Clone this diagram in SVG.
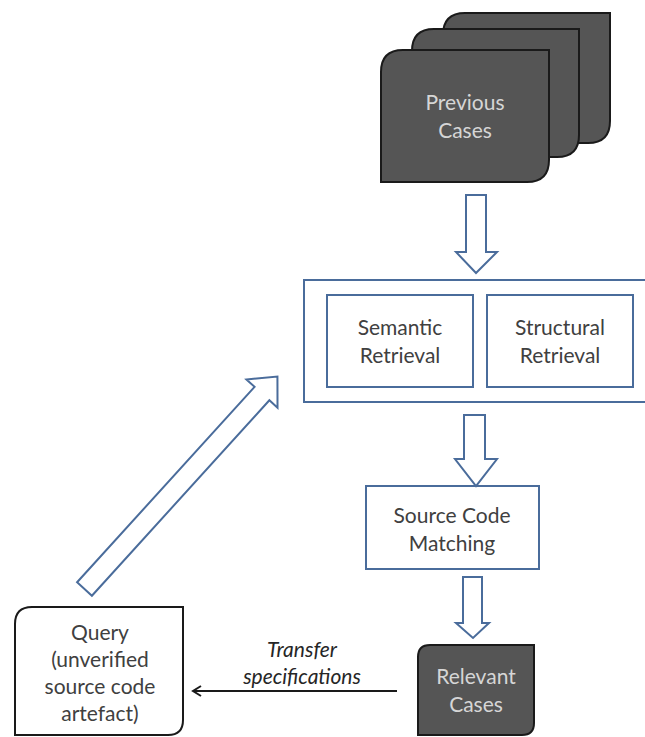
<svg xmlns="http://www.w3.org/2000/svg" width="645" height="737" viewBox="0 0 645 737">
<defs>
<style>
.card{fill:#555555;stroke:#1a1a1a;stroke-width:2}
.box{fill:#ffffff;stroke:#4a6c9b;stroke-width:2}
.blk{fill:#ffffff;stroke:#4a6c9b;stroke-width:2;stroke-linejoin:miter}
.t{font-family:Lato,"Open Sans","Liberation Sans",sans-serif;font-size:21px;fill:#404040;text-anchor:middle}
.tl{font-family:Lato,"Open Sans","Liberation Sans",sans-serif;font-size:21px;fill:#d6d6d6;text-anchor:middle}
.ti{font-family:Lato,"Open Sans","Liberation Sans",sans-serif;font-size:21px;fill:#262626;text-anchor:middle;font-style:italic}
</style>
<marker id="open" markerWidth="12" markerHeight="12" refX="10" refY="6" orient="auto" markerUnits="userSpaceOnUse">
<path d="M2,1 L10,6 L2,11" fill="none" stroke="#1a1a1a" stroke-width="2"/>
</marker>
</defs>
<rect width="645" height="737" fill="#ffffff"/>

<g id="previous-cases">
<path class="card" d="M465,13 H610 V121 Q610,143 588,143 H443 V35 Q443,13 465,13 Z"/>
<path class="card" d="M434,29 H579 V135 Q579,157 557,157 H412 V51 Q412,29 434,29 Z"/>
<path class="card" d="M403,50 H549 V160 Q549,182 527,182 H381 V72 Q381,50 403,50 Z"/>
<text class="tl" x="465" y="110">Previous</text>
<text class="tl" x="465" y="138">Cases</text>
</g>

<g id="retrieval">
<rect class="box" x="304" y="280" width="350" height="122"/>
<g id="semantic-retrieval">
<rect class="box" x="327" y="295" width="146" height="92"/>
<text class="t" x="400" y="335">Semantic</text>
<text class="t" x="400" y="363">Retrieval</text>
</g>
<g id="structural-retrieval">
<rect class="box" x="487" y="295" width="146" height="92"/>
<text class="t" x="560" y="335">Structural</text>
<text class="t" x="560" y="363">Retrieval</text>
</g>
</g>

<g id="source-code-matching">
<rect class="box" x="366" y="486" width="173" height="83"/>
<text class="t" x="452" y="523">Source Code</text>
<text class="t" x="452" y="551">Matching</text>
</g>

<g id="relevant-cases">
<path class="card" d="M430,645 H534 V723 Q534,735 522,735 H418 V657 Q418,645 430,645 Z"/>
<text class="tl" x="476" y="684">Relevant</text>
<text class="tl" x="476" y="712">Cases</text>
</g>

<g id="query">
<path d="M32,607 H183 V720 Q183,735 168,735 H15 V624 Q15,607 32,607 Z" fill="#ffffff" stroke="#1a1a1a" stroke-width="2"/>
<text class="t" x="100" y="640">Query</text>
<text class="t" x="100" y="667">(unverified</text>
<text class="t" x="100" y="694">source code</text>
<text class="t" x="100" y="721">artefact)</text>
</g>

<g id="connectors">
<polygon class="blk" points="466,195 486,195 486,252 497,252 476,273 456,252 466,252"/>
<polygon class="blk" points="464,415 485,415 485,459 497,459 476,486 455,459 464,459"/>
<polygon class="blk" points="463,577 482,577 482,623 489,623 473,638 456,623 463,623"/>
<polygon class="blk" transform="translate(84.5,589) rotate(-47.76)" points="0,-10 264,-10 264,-21 287,0 264,21 264,10 0,10"/>
<line x1="397" y1="691" x2="193" y2="691" stroke="#1a1a1a" stroke-width="2" marker-end="url(#open)"/>
<text class="ti" x="302" y="657">Transfer</text>
<text class="ti" x="302" y="684">specifications</text>
</g>
</svg>
